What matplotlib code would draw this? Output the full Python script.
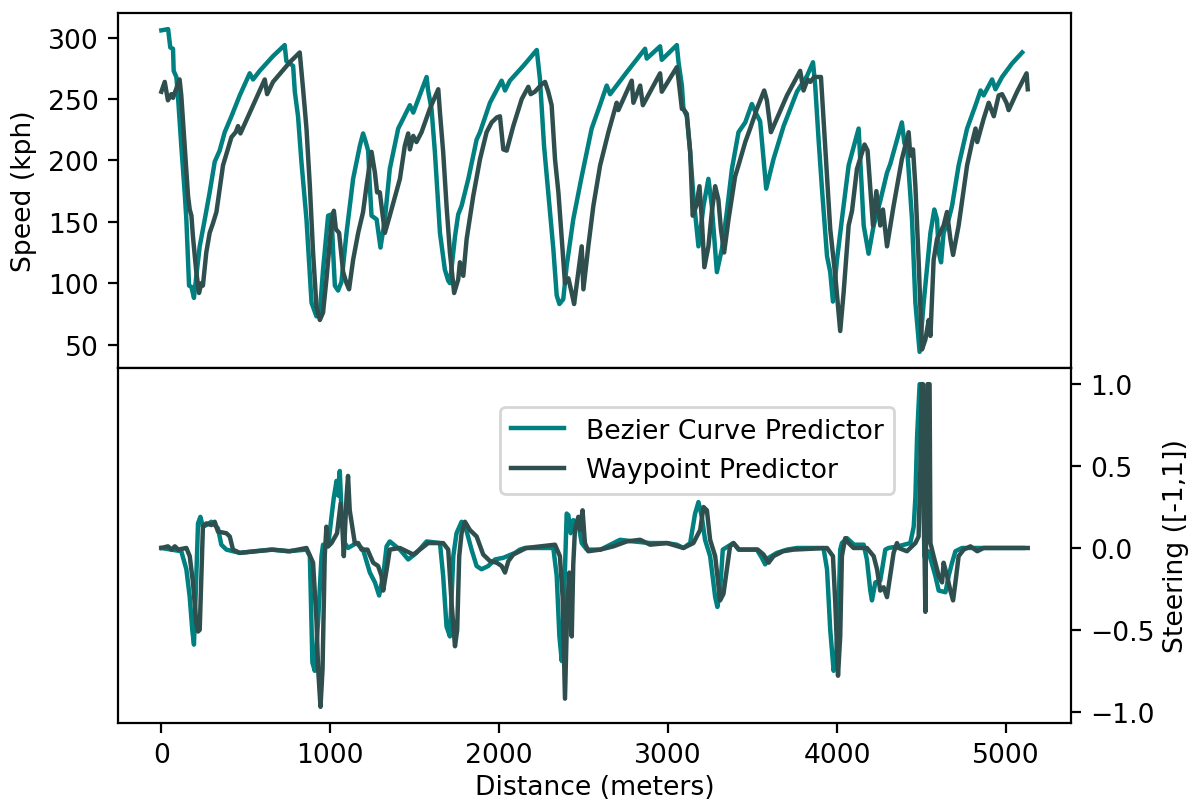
import matplotlib
matplotlib.use("Agg")
import matplotlib.pyplot as plt

# ------------------------------------------
# data (distance in m)
# ------------------------------------------
bez_speed_d = [0, 40, 53, 69, 73, 89, 98, 118, 138, 148, 164, 178, 193, 207, 227, 257, 286, 316, 345, 375,
               415, 464, 523, 543, 582, 661, 730, 740, 780, 790, 809, 829, 859, 889, 918, 938, 957, 987, 1007,
               1017, 1027, 1046, 1066, 1096, 1135, 1175, 1194, 1210, 1224, 1234, 1244, 1274, 1297, 1323, 1352,
               1402, 1471, 1491, 1570, 1579, 1599, 1619, 1649, 1678, 1698, 1708, 1738, 1757, 1777, 1817, 1866,
               1886, 1945, 2014, 2034, 2063, 2142, 2222, 2241, 2265, 2290, 2320, 2340, 2356, 2379, 2399, 2438,
               2488, 2547, 2596, 2636, 2656, 2755, 2863, 2873, 2952, 2962, 3051, 3061, 3081, 3090, 3110, 3130,
               3149, 3179, 3209, 3238, 3258, 3288, 3318, 3347, 3377, 3416, 3456, 3495, 3521, 3544, 3580, 3623,
               3683, 3762, 3822, 3857, 3870, 3890, 3910, 3940, 3959, 3975, 3999, 4028, 4068, 4127, 4157, 4186,
               4216, 4255, 4295, 4314, 4383, 4398, 4413, 4443, 4463, 4488, 4512, 4552, 4575, 4591, 4601, 4615,
               4630, 4660, 4680, 4719, 4769, 4819, 4849, 4867, 4917, 4937, 4976, 5035, 5095]
bez_speed = [306, 307, 292, 291, 273, 268, 253, 212, 174, 152, 98, 97, 88, 106, 130, 152, 174, 199, 208, 223,
             236, 253, 271, 266, 273, 285, 294, 281, 277, 256, 236, 199, 152, 84, 73, 76, 111, 155, 156,
             125, 98, 94, 101, 141, 185, 212, 222, 215, 208, 179, 155, 152, 129, 152, 193,
             226, 245, 239, 268, 257, 242, 207, 141, 111, 102, 100, 138, 156, 163, 185, 217,
             223, 247, 265, 257, 265, 277, 290, 266, 212, 174, 128, 90, 83, 87, 114, 152,
             187, 226, 245, 261, 254, 272, 291, 283, 293, 282, 294, 280, 261, 242, 236, 207,
             171, 130, 163, 185, 163, 109, 128, 158, 193, 223, 231, 246, 238, 232, 177, 201,
             228, 256, 269, 280, 261, 217, 177, 122, 109, 85, 119, 152, 196, 226, 147, 124,
             147, 167, 190, 197, 231, 214, 212, 152, 84, 44, 84, 141, 160, 152, 125, 117,
             141, 152, 163, 196, 226, 245, 257, 253, 266, 258, 268, 279, 288]

wp_speed_d = [0, 20, 39, 59, 69, 108, 118, 138, 158, 168, 178, 187, 207, 223, 237, 246, 266, 286, 306, 326,
              365, 415, 440, 454, 468, 543, 612, 626, 661, 760, 819, 839, 859, 879, 898, 918, 938, 957, 977,
              1007, 1021, 1033, 1052, 1076, 1096, 1111, 1135, 1165, 1194, 1214, 1244, 1264, 1277, 1293, 1313,
              1323, 1352, 1412, 1441, 1461, 1471, 1491, 1510, 1540, 1589, 1639, 1649, 1668, 1688, 1708, 1733,
              1757, 1767, 1787, 1807, 1846, 1886, 1925, 1955, 1985, 2004, 2024, 2044, 2083, 2133, 2172, 2186,
              2211, 2251, 2271, 2290, 2310, 2330, 2350, 2370, 2389, 2409, 2429, 2443, 2468, 2488, 2498, 2527,
              2557, 2597, 2646, 2695, 2705, 2784, 2794, 2834, 2850, 2952, 2962, 3051, 3061, 3081, 3090, 3110,
              3130, 3145, 3166, 3185, 3199, 3214, 3238, 3258, 3278, 3297, 3312, 3331, 3357, 3396, 3416, 3456,
              3485, 3525, 3568, 3584, 3608, 3643, 3703, 3781, 3801, 3825, 3841, 3864, 3904, 3919, 3940, 3959,
              3989, 4018, 4038, 4068, 4088, 4117, 4162, 4180, 4212, 4232, 4255, 4271, 4295, 4334, 4383, 4423,
              4433, 4449, 4463, 4482, 4502, 4522, 4542, 4552, 4571, 4591, 4630, 4650, 4670, 4686, 4719, 4769,
              4799, 4819, 4829, 4867, 4897, 4927, 4956, 4976, 5002, 5015, 5065, 5121, 5128]
wp_speed = [256, 264, 249, 254, 251, 266, 253, 212, 171, 160, 155, 138, 109, 92, 100, 98, 125, 141, 149, 158,
            196, 219, 223, 228, 222, 245, 266, 254, 264, 280, 288, 258, 226, 179, 125, 81, 70, 76, 103,
            149, 159, 144, 141, 109, 100, 95, 119, 141, 158, 179, 207, 190, 174, 174, 152,
            141, 155, 185, 212, 222, 209, 220, 215, 223, 242, 258, 239, 207, 163, 125, 92,
            103, 117, 106, 136, 171, 201, 223, 231, 235, 236, 209, 208, 228, 250, 260, 254,
            256, 262, 264, 256, 245, 201, 174, 136, 100, 104, 92, 83, 109, 130, 95, 130,
            163, 196, 223, 247, 241, 265, 247, 261, 245, 271, 256, 276, 266, 242, 242, 238,
            207, 155, 163, 179, 152, 113, 130, 158, 179, 168, 144, 125, 152, 187, 196, 215,
            226, 242, 257, 249, 223, 234, 253, 273, 257, 266, 264, 268, 268, 234, 187, 144,
            106, 61, 92, 147, 159, 193, 213, 208, 147, 175, 147, 160, 130, 163, 201, 223,
            204, 209, 179, 119, 46, 54, 70, 57, 119, 136, 147, 158, 136, 123, 147, 196,
            215, 226, 215, 234, 247, 236, 253, 254, 247, 241, 256, 271, 258]

bez_steer_d = [0, 118, 148, 168, 183, 193, 207, 217, 231, 246, 266, 296, 335, 355, 385, 464, 550, 650, 750,
               859, 879, 894, 908, 928, 948, 957, 987, 1007, 1021, 1037, 1047, 1056, 1066, 1086, 1105, 1155,
               1194, 1234, 1264, 1289, 1313, 1333, 1352, 1412, 1461, 1510, 1570, 1649, 1668, 1688, 1708, 1728,
               1747, 1777, 1797, 1836, 1866, 1895, 1935, 1975, 2024, 2093, 2122, 2152, 2320, 2340, 2356, 2370,
               2389, 2399, 2409, 2423, 2438, 2468, 2488, 2518, 2600, 2676, 2715, 2794, 2893, 2992, 3051, 3090,
               3130, 3159, 3179, 3199, 3218, 3248, 3278, 3291, 3307, 3323, 3386, 3416, 3525, 3554, 3574, 3594,
               3643, 3703, 3762, 3919, 3940, 3959, 3979, 3995, 4008, 4018, 4028, 4058, 4100, 4157, 4176, 4196,
               4206, 4226, 4255, 4285, 4304, 4360, 4433, 4453, 4463, 4473, 4488, 4502, 4508, 4516, 4540, 4581,
               4601, 4641, 4660, 4680, 4700, 4739, 5100]
bez_steer = [0.0, -0.02, -0.13, -0.30, -0.50, -0.59, -0.17, 0.15, 0.19, 0.13, 0.14, 0.16, 0.12, 0.02, -0.01,
             -0.03, -0.02, -0.01, -0.02, -0.01, -0.05, -0.70, -0.75, -0.44, -0.05, 0.02, 0.01, 0.19, 0.31,
             0.41, 0.32, 0.47, 0.23, 0.03, 0.0, 0.03, -0.01, -0.15, -0.21, -0.29, -0.17, 0.01, 0.04, -0.01,
             -0.07, -0.03, 0.04, 0.03, -0.17, -0.48, -0.54, -0.05, 0.09, 0.16, 0.14, -0.01, -0.11, -0.13,
             -0.11, -0.07, -0.06, -0.03, -0.01, 0.0, 0.0, -0.17, -0.54, -0.69, -0.13, 0.21, 0.20, 0.09, 0.17,
             0.15, 0.03, -0.01, -0.01, 0.03, 0.05, 0.04, 0.03, 0.03, 0.02, 0.0, 0.03, 0.21, 0.28, 0.19, 0.05,
             -0.05, -0.30, -0.36, -0.26, -0.01, 0.03, -0.01, -0.01, -0.06, -0.10, -0.06, -0.03, -0.01, 0.0,
             0.0, -0.13, -0.50, -0.75, -0.65, -0.38, -0.01, 0.03, 0.06, 0.02, 0.02, -0.07, -0.26, -0.32,
             -0.21, -0.20, -0.01, 0.0, 0.01, 0.03, 0.13, 0.31, 0.68, 1.0, 1.0, 0.47, -0.05, -0.02, -0.17,
             -0.26, -0.27, -0.17, -0.09, -0.02, 0.0, 0.0]

wp_steer_d = [0, 39, 60, 80, 100, 148, 168, 187, 207, 217, 227, 237, 246, 266, 296, 316, 335, 385, 405, 424,
              464, 560, 660, 760, 859, 898, 918, 928, 942, 954, 967, 977, 987, 1007, 1040, 1061, 1072, 1080,
              1096, 1105, 1115, 1145, 1165, 1185, 1220, 1254, 1283, 1303, 1313, 1337, 1352, 1412, 1451, 1491,
              1530, 1579, 1668, 1698, 1718, 1738, 1751, 1763, 1777, 1797, 1826, 1866, 1905, 1945, 1985, 2014,
              2034, 2054, 2083, 2122, 2160, 2330, 2359, 2375, 2389, 2403, 2415, 2429, 2438, 2448, 2468, 2478,
              2493, 2507, 2527, 2597, 2676, 2755, 2834, 2893, 2992, 3090, 3149, 3189, 3209, 3229, 3248, 3278,
              3307, 3327, 3347, 3366, 3386, 3420, 3530, 3564, 3594, 3623, 3680, 3742, 3940, 3975, 3989, 4005,
              4018, 4028, 4048, 4068, 4097, 4176, 4216, 4236, 4255, 4275, 4295, 4314, 4334, 4354, 4364, 4413,
              4463, 4482, 4492, 4500, 4508, 4514, 4522, 4530, 4535, 4547, 4552, 4571, 4601, 4621, 4630, 4650,
              4670, 4686, 4700, 4719, 4749, 4789, 4829, 4867, 5128]
wp_steer = [0.0, 0.01, -0.01, 0.01, -0.01, 0.0, -0.05, -0.21, -0.46, -0.51, -0.50, -0.17, 0.13, 0.15, 0.14,
            0.16, 0.10, 0.09, 0.07, -0.01, -0.03, -0.02, -0.01, -0.02, 0.0, -0.09, -0.44, -0.74, -0.97, -0.74,
            -0.05, 0.13, 0.01, 0.03, 0.09, 0.27, 0.11, -0.05, 0.31, 0.44, 0.23, 0.03, 0.03, -0.01, -0.01,
            -0.09, -0.11, -0.17, -0.26, -0.11, -0.01, 0.0, -0.02, -0.04, -0.01, 0.03, 0.03, -0.01, -0.34,
            -0.60, -0.50, -0.05, 0.09, 0.16, 0.11, 0.07, -0.04, -0.08, -0.09, -0.11, -0.15, -0.08, -0.04,
            -0.02, 0.0, 0.02, -0.05, -0.30, -0.92, -0.34, -0.15, -0.54, -0.10, 0.11, 0.19, 0.11, 0.23, 0.03,
            -0.02, -0.01, 0.01, 0.04, 0.05, 0.02, 0.03, 0.0, 0.03, 0.11, 0.25, 0.23, 0.05, -0.05, -0.32,
            -0.28, -0.13, 0.01, 0.03, -0.01, -0.01, -0.04, -0.09, -0.05, -0.02, -0.01, 0.0, -0.05, -0.34,
            -0.78, -0.54, -0.05, 0.06, 0.03, 0.0, 0.0, -0.05, -0.13, -0.26, -0.24, -0.30, -0.17, -0.03, 0.03,
            0.0, -0.02, 0.03, 0.07, 0.47, 1.0, 1.0, 0.2, -0.39, 0.5, 1.0, 1.0, 0.03, -0.05, -0.17, -0.21,
            -0.09, -0.17, -0.26, -0.32, -0.21, -0.05, -0.01, 0.01, -0.02, 0.0, 0.0]

BEZ_COLOR = "teal"
WP_COLOR = "darkslategray"

plt.rcParams["font.size"] = 9.6
plt.rcParams["lines.linewidth"] = 1.6

fig = plt.figure(figsize=(1191 / 200, 804 / 200), dpi=200)
ax1 = fig.add_axes([0.0991, 0.541, 0.8002, 0.4416])
ax2 = fig.add_axes([0.0991, 0.0995, 0.8002, 0.4415], sharex=ax1)

# speed (top)
ax1.plot(bez_speed_d, bez_speed, color=BEZ_COLOR, label="Bezier Curve Predictor")
ax1.plot(wp_speed_d, wp_speed, color=WP_COLOR, label="Waypoint Predictor")
ax1.set_ylabel("Speed (kph)")
ax1.tick_params(axis="x", bottom=False, labelbottom=False)

# steering (bottom, right axis)
ax2.plot(bez_steer_d, bez_steer, color=BEZ_COLOR, label="Bezier Curve Predictor")
ax2.plot(wp_steer_d, wp_steer, color=WP_COLOR, label="Waypoint Predictor")
ax2.yaxis.tick_right()
ax2.yaxis.set_label_position("right")
ax2.set_ylabel("Steering ([-1,1])", labelpad=3)
ax2.set_xlabel("Distance (meters)", labelpad=2)
ax2.set_xticks([0, 1000, 2000, 3000, 4000, 5000])
ax2.set_yticks([-1.0, -0.5, 0.0, 0.5, 1.0])
ax2.legend(loc="upper left", bbox_to_anchor=(0.401, 0.890), borderaxespad=0)

fig.savefig("out.png", dpi=200)
